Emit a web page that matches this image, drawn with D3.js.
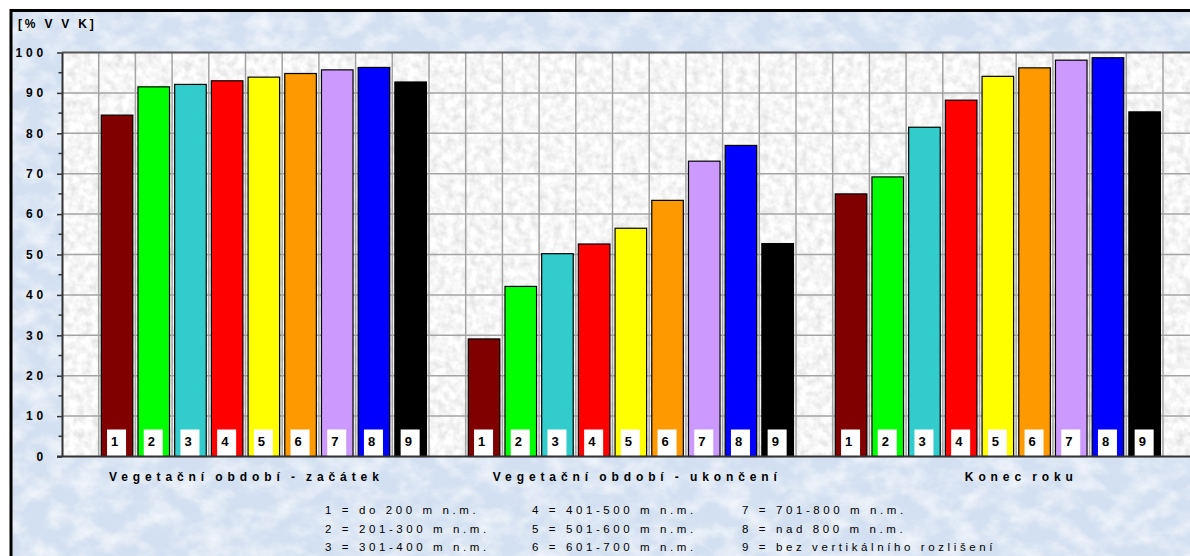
<!DOCTYPE html>
<html>
<head>
<meta charset="utf-8">
<script src="https://cdn.jsdelivr.net/npm/d3@7"></script>
<style>
  html, body { margin: 0; padding: 0; background: #ffffff; }
  svg { display: block; font-family: Arial, "Liberation Sans", sans-serif; }
</style>
</head>
<body>
<svg id="chart" width="1190" height="556"></svg>
<script>
// Period groups along the category axis
const groups = ["Vegetační období - začátek", "Vegetační období - ukončení", "Konec roku"];
// Altitude zones (one bar per zone in each group)
const zones = ["1", "2", "3", "4", "5", "6", "7", "8", "9"];
const zoneNames = [
  "do 200 m n.m.", "201-300 m n.m.", "301-400 m n.m.",
  "401-500 m n.m.", "501-600 m n.m.", "601-700 m n.m.",
  "701-800 m n.m.", "nad 800 m n.m.", "bez vertikálního rozlišení"
];
const zoneColors = ["#800000", "#00ff00", "#33cccc", "#ff0000", "#ffff00", "#ff9900", "#cc99ff", "#0000ff", "#000000"];

// Soil water content [% VVK] per zone
const startValues   = [84.5, 91.5, 92.1, 93.0, 93.9, 94.8, 95.7, 96.3, 92.7];
const endValues     = [29.1, 42.1, 50.2, 52.6, 56.5, 63.4, 73.1, 77.0, 52.7];
const yearEndValues = [65.0, 69.2, 81.5, 88.2, 94.1, 96.2, 98.1, 98.7, 85.3];

const yTicks = [0, 10, 20, 30, 40, 50, 60, 70, 80, 90, 100];
const yMinorTicks = [5, 15, 25, 35, 45, 55, 65, 75, 85, 95];
const yAxisTitle = "[% V V K]";

const seriesByGroup = [startValues, endValues, yearEndValues];

const svg = d3.select("#chart");
const plotLeft = 62, plotTop = 52.5, plotBottom = 456.5, slot = 36.7;
const plotWidth = 31 * slot;

const x0 = d3.scaleBand().domain(groups)
  .range([plotLeft, plotLeft + plotWidth]).paddingInner(0.1).paddingOuter(0.1);
const x1 = d3.scaleBand().domain(zones)
  .range([0, x0.bandwidth()]).paddingInner(0.14).paddingOuter(0.07);
const y = d3.scaleLinear().domain([0, 100]).range([plotBottom, plotTop]);

// Textures
const defs = svg.append("defs");
const fBlue = defs.append("filter").attr("id", "texBlue")
  .attr("x", 0).attr("y", 0).attr("width", 1).attr("height", 1);
fBlue.append("feTurbulence").attr("type", "fractalNoise")
  .attr("baseFrequency", "0.04 0.055").attr("numOctaves", 4).attr("seed", 7);
fBlue.append("feColorMatrix").attr("type", "matrix")
  .attr("values", "0 0 0 0 1  0 0 0 0 1  0 0 0 0 1  1.4 0 0 0 -0.52");

const fGray = defs.append("filter").attr("id", "texGray")
  .attr("x", 0).attr("y", 0).attr("width", 1).attr("height", 1);
fGray.append("feTurbulence").attr("type", "fractalNoise")
  .attr("baseFrequency", 0.13).attr("numOctaves", 3).attr("seed", 3);
fGray.append("feColorMatrix").attr("type", "matrix")
  .attr("values", "0.42 0 0 0 0.71  0.42 0 0 0 0.71  0.42 0 0 0 0.71  0 0 0 0 1");

// Outer chart area
svg.append("rect").attr("x", 11).attr("y", 10.5).attr("width", 1200).attr("height", 560)
  .attr("fill", "#d3e0f1");
svg.append("rect").attr("x", 11).attr("y", 10.5).attr("width", 1200).attr("height", 560)
  .attr("fill", "#fff").attr("filter", "url(#texBlue)");

// Plot area
svg.append("rect").attr("x", plotLeft).attr("y", plotTop)
  .attr("width", plotWidth).attr("height", plotBottom - plotTop)
  .attr("fill", "#ebebeb");
svg.append("rect").attr("x", plotLeft).attr("y", plotTop)
  .attr("width", plotWidth).attr("height", plotBottom - plotTop)
  .attr("fill", "#fff").attr("filter", "url(#texGray)");

// Gridlines
const grid = svg.append("g").attr("stroke", "#a3a3a3").attr("stroke-width", 1.5);
grid.selectAll("line.h").data(yTicks.slice(1, -1)).join("line").attr("class", "h")
  .attr("x1", plotLeft).attr("x2", plotLeft + plotWidth)
  .attr("y1", d => y(d)).attr("y2", d => y(d));
grid.selectAll("line.v").data(d3.range(1, 32)).join("line").attr("class", "v")
  .attr("x1", k => plotLeft + k * x1.step()).attr("x2", k => plotLeft + k * x1.step())
  .attr("y1", plotTop).attr("y2", plotBottom);

// Bars
const groupG = svg.selectAll("g.group").data(groups).join("g").attr("class", "group")
  .attr("transform", g => `translate(${x0(g)},0)`);

groupG.each(function(g, gi) {
  const vals = seriesByGroup[gi];
  const sel = d3.select(this);
  const items = zones.map((z, i) => ({ zone: z, value: vals[i], color: zoneColors[i] }));
  sel.selectAll("rect.bar").data(items).join("rect").attr("class", "bar")
    .attr("x", d => x1(d.zone)).attr("width", x1.bandwidth())
    .attr("y", d => y(d.value)).attr("height", d => y(0) - y(d.value))
    .attr("fill", d => d.color).attr("stroke", "#000").attr("stroke-width", 1.2);
  // zone number tags at the bar base
  const boxW = 19, boxH = 27;
  sel.selectAll("rect.tag").data(items).join("rect").attr("class", "tag")
    .attr("x", d => x1(d.zone) + x1.bandwidth() / 2 - boxW / 2 - 0.5)
    .attr("y", y(0) - boxH).attr("width", boxW).attr("height", boxH)
    .attr("fill", "#fff");
  sel.selectAll("text.tag").data(items).join("text").attr("class", "tag")
    .attr("x", d => x1(d.zone) + x1.bandwidth() / 2 - boxW / 2 + 3.5)
    .attr("y", y(0) - 11)
    .attr("font-size", 13).attr("font-weight", "bold").attr("fill", "#000")
    .text(d => d.zone);
});

// Plot frame lines
svg.append("line").attr("x1", plotLeft).attr("x2", plotLeft + plotWidth)
  .attr("y1", plotTop).attr("y2", plotTop).attr("stroke", "#555").attr("stroke-width", 2);
svg.append("line").attr("x1", plotLeft - 5).attr("x2", plotLeft + plotWidth)
  .attr("y1", plotBottom).attr("y2", plotBottom).attr("stroke", "#333").attr("stroke-width", 2);

// Y axis
const yAxis = svg.append("g").attr("transform", `translate(${plotLeft},0)`)
  .call(d3.axisLeft(y).tickValues(yTicks).tickSize(5).tickSizeOuter(0).tickPadding(10));
yAxis.select(".domain").attr("stroke", "#333").attr("stroke-width", 2);
yAxis.selectAll(".tick line").attr("stroke", "#333").attr("stroke-width", 1.5);
yAxis.selectAll(".tick text")
  .attr("font-family", "Arial, 'Liberation Sans', sans-serif")
  .attr("font-size", 12).attr("font-weight", "bold").attr("fill", "#000")
  .attr("letter-spacing", "3.8px");
yAxis.selectAll("line.minor").data(yMinorTicks).join("line").attr("class", "minor")
  .attr("x1", -3.5).attr("x2", 0).attr("y1", d => y(d)).attr("y2", d => y(d))
  .attr("stroke", "#333").attr("stroke-width", 1.5);

svg.append("text").attr("x", 18).attr("y", 28)
  .attr("font-size", 12).attr("font-weight", "bold").attr("letter-spacing", "2.8px")
  .text(yAxisTitle);

// Category labels
const labelShift = [-20, 4, 21];
svg.selectAll("text.cat").data(groups).join("text").attr("class", "cat")
  .attr("x", (g, i) => x0(g) + x0.bandwidth() / 2 + labelShift[i] + 2.5)
  .attr("y", 481)
  .attr("text-anchor", "middle")
  .attr("font-size", 12).attr("font-weight", "bold")
  .attr("letter-spacing", "4.9px").attr("word-spacing", "-2px")
  .text(g => g);

// Legend of altitude zones (three columns)
const legendCols = [325, 532, 742];
const legendRows = [514, 532.5, 551];
svg.selectAll("text.leg").data(zoneNames).join("text").attr("class", "leg")
  .attr("x", (d, i) => legendCols[Math.floor(i / 3)])
  .attr("y", (d, i) => legendRows[i % 3])
  .attr("font-size", 11.5).attr("letter-spacing", "3.6px").attr("fill", "#000")
  .text((d, i) => `${zones[i]} = ${d}`);

// Outer frame
svg.append("rect").attr("x", 11).attr("y", 10.5).attr("width", 1200).attr("height", 560)
  .attr("fill", "none").attr("stroke", "#000").attr("stroke-width", 3);
</script>
</body>
</html>
